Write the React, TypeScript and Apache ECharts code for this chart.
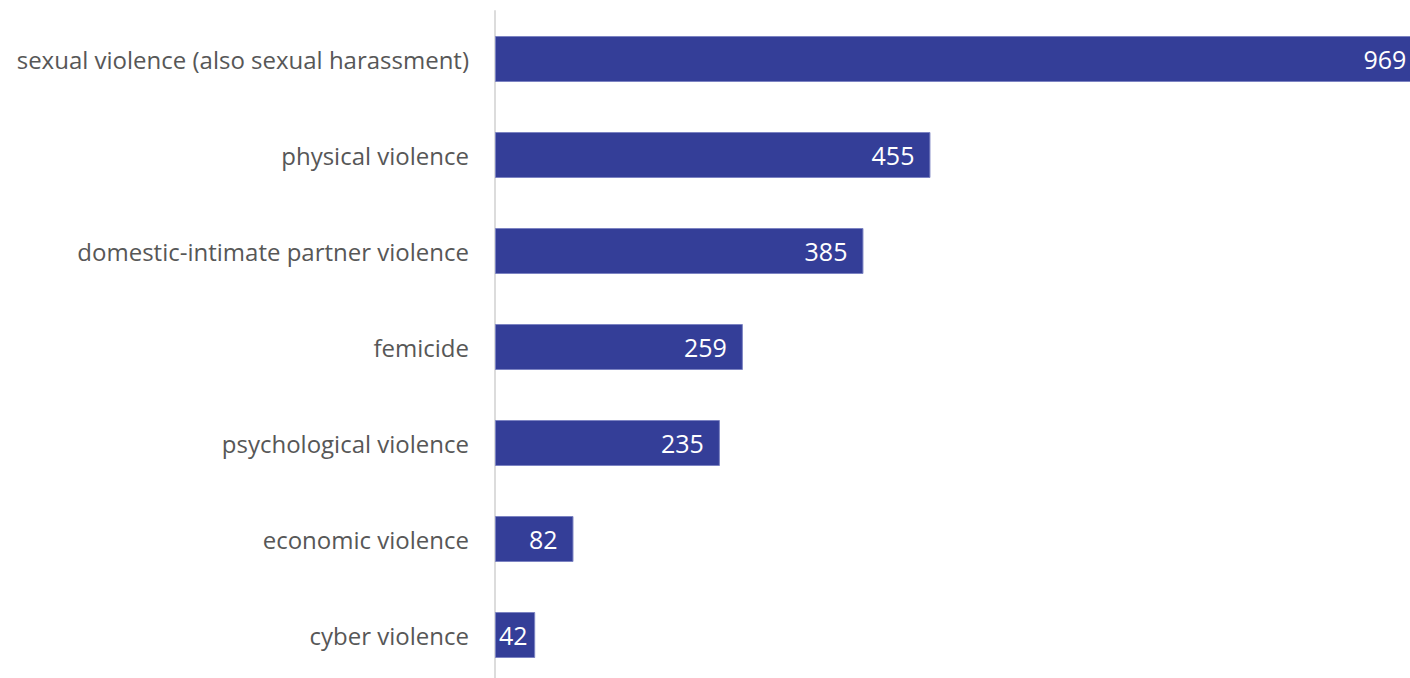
import React, { useEffect, useRef } from "react";
import * as echarts from "echarts";

const categories = [
  "sexual violence (also sexual harassment)",
  "physical violence",
  "domestic-intimate partner violence",
  "femicide",
  "psychological violence",
  "economic violence",
  "cyber violence",
];
const values = [969, 455, 385, 259, 235, 82, 42];
const axisMin = 0;
const axisMax = 1000;

export default function App() {
  const ref = useRef<HTMLDivElement>(null);
  useEffect(() => {
    document.body.style.margin = "0";
    document.body.style.overflow = "hidden";
    const chart = echarts.init(ref.current!, null, { renderer: "svg" });
    const font = "'Open Sans', 'Noto Sans', sans-serif";
    const data = values.map((v) =>
      v < 60
        ? { value: v, label: { position: "insideLeft", distance: 4 } }
        : { value: v }
    );
    chart.setOption({
      animation: false,
      grid: { left: 495, top: 11, width: 957, height: 672 },
      xAxis: {
        type: "value",
        min: axisMin,
        max: axisMax,
        show: false,
      },
      yAxis: {
        type: "category",
        data: categories,
        inverse: true,
        axisLine: { show: true, lineStyle: { color: "#dcdcdc", width: 2 } },
        axisTick: { show: false },
        axisLabel: {
          color: "#575757",
          fontSize: 24,
          fontFamily: font,
          margin: 26,
          padding: [0, 0, 5, 0],
        },
      },
      series: [
        {
          type: "bar",
          data,
          barWidth: 46,
          itemStyle: { color: "#343e98", borderColor: "#7c83c2", borderWidth: 1 },
          label: {
            show: true,
            position: "insideRight",
            distance: 16,
            color: "#ffffff",
            fontSize: 25,
            fontFamily: font,
            padding: [0, 0, 2, 0],
          },
        },
      ],
    });
    return () => chart.dispose();
  }, []);
  return (
    <div style={{ width: 1410, height: 678, overflow: "hidden", position: "relative" }}>
      <div ref={ref} style={{ width: 1480, height: 700 }} />
    </div>
  );
}
